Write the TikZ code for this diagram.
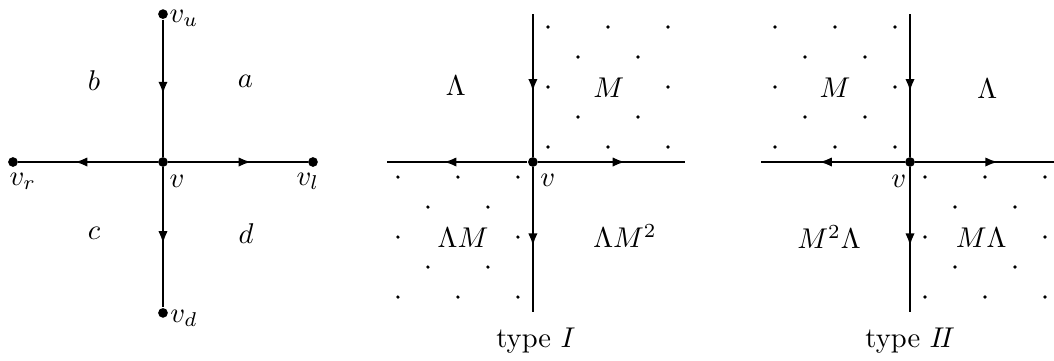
\documentclass[tikz,border=0pt]{standalone}
\usetikzlibrary{arrows.meta,decorations.markings}
\tikzset{
  vx arm/.style={line width=0.8pt, postaction={decorate},
    decoration={markings, mark=at position #1 with {\arrow[xshift=2.2pt]{Latex[length=4.4pt,width=3.3pt]}}}},
  vx arm/.default=0.5,
  vx dot/.style={circle, fill, inner sep=0pt, minimum size=3.4pt},
  vx label/.style={inner sep=0pt},
}
\newcommand{\latticedots}[3]{% centre x, sign x, sign y
  \foreach \i/\j in {0/0,2/0,4/0,1/1,3/1,0/2,4/2,1/3,3/3,0/4,2/4,4/4}
    \fill ({#1+#2*(0.5+\i)},{#3*(0.5+\j)}) circle (0.65pt);
}

\begin{document}
\begin{tikzpicture}[x=10.5pt,y=10.5pt]
\useasboundingbox (-5.433,-6.6) rectangle (29.7,5.4);
% left: the vertex v and its neighbours
\node[vx dot] (v) at (0,0) {};
\node[vx dot] (vu) at (0,4.93) {};
\node[vx dot] (vd) at (0,-5.03) {};
\node[vx dot] (vr) at (-5,0) {};
\node[vx dot] (vl) at (5,0) {};
\draw[vx arm] (vu) -- (v);
\draw[vx arm] (v) -- (vd);
\draw[vx arm=0.55] (v) -- (vr);
\draw[vx arm=0.55] (v) -- (vl);
\node[vx label] (vulab) at (0.7,4.8) {$v_u$};
\node[vx label] (vdlab) at (0.7,-5.2) {$v_d$};
\node[vx label] (vrlab) at (-4.67,-0.65) {$v_r$};
\node[vx label] (vllab) at (4.83,-0.65) {$v_l$};
\node[vx label] (vlab) at (0.47,-0.63) {$v$};
\node (qa) at (2.75,2.7) {$a$};
\node (qb) at (-2.3,2.7) {$b$};
\node (qc) at (-2.3,-2.37) {$c$};
\node (qd) at (2.77,-2.37) {$d$};

% middle: type I
\node[vx dot] (vI) at (12.33,0) {};
\coordinate (uI) at (12.33,4.93);
\coordinate (dI) at (12.33,-5);
\coordinate (rI) at (7.46,0);
\coordinate (lI) at (17.4,0);
\draw[vx arm] (uI) -- (vI);
\draw[vx arm] (vI) -- (dI);
\draw[vx arm=0.55] (vI) -- (rI);
\draw[vx arm=0.55] (vI) -- (lI);
\latticedots{12.33}{1}{1}
\latticedots{12.33}{-1}{-1}
\node[vx label] (vIlab) at (12.83,-0.6) {$v$};
\node (qIb) at (9.76,2.53) {$\Lambda$};
\node (qIa) at (14.86,2.47) {$M$};
\node (qIc) at (10,-2.53) {$\Lambda M$};
\node (qId) at (15.4,-2.47) {$\Lambda M^2$};
\node (capI) at (12.43,-5.95) {type $I$};

% right: type II
\node[vx dot] (vII) at (24.9,0) {};
\coordinate (uII) at (24.9,4.93);
\coordinate (dII) at (24.9,-5);
\coordinate (rII) at (19.93,0);
\coordinate (lII) at (29.7,0);
\draw[vx arm] (uII) -- (vII);
\draw[vx arm] (vII) -- (dII);
\draw[vx arm=0.55] (vII) -- (rII);
\draw[vx arm=0.55] (vII) -- (lII);
\latticedots{24.9}{-1}{1}
\latticedots{24.9}{1}{-1}
\node[vx label] (vIIlab) at (24.53,-0.63) {$v$};
\node (qIIb) at (22.4,2.47) {$M$};
\node (qIIa) at (27.48,2.43) {$\Lambda$};
\node (qIIc) at (22.2,-2.5) {$M^2\Lambda$};
\node (qIId) at (27.27,-2.53) {$M\Lambda$};
\node (capII) at (24.9,-5.95) {type $I\!I$};
\end{tikzpicture}
\end{document}
